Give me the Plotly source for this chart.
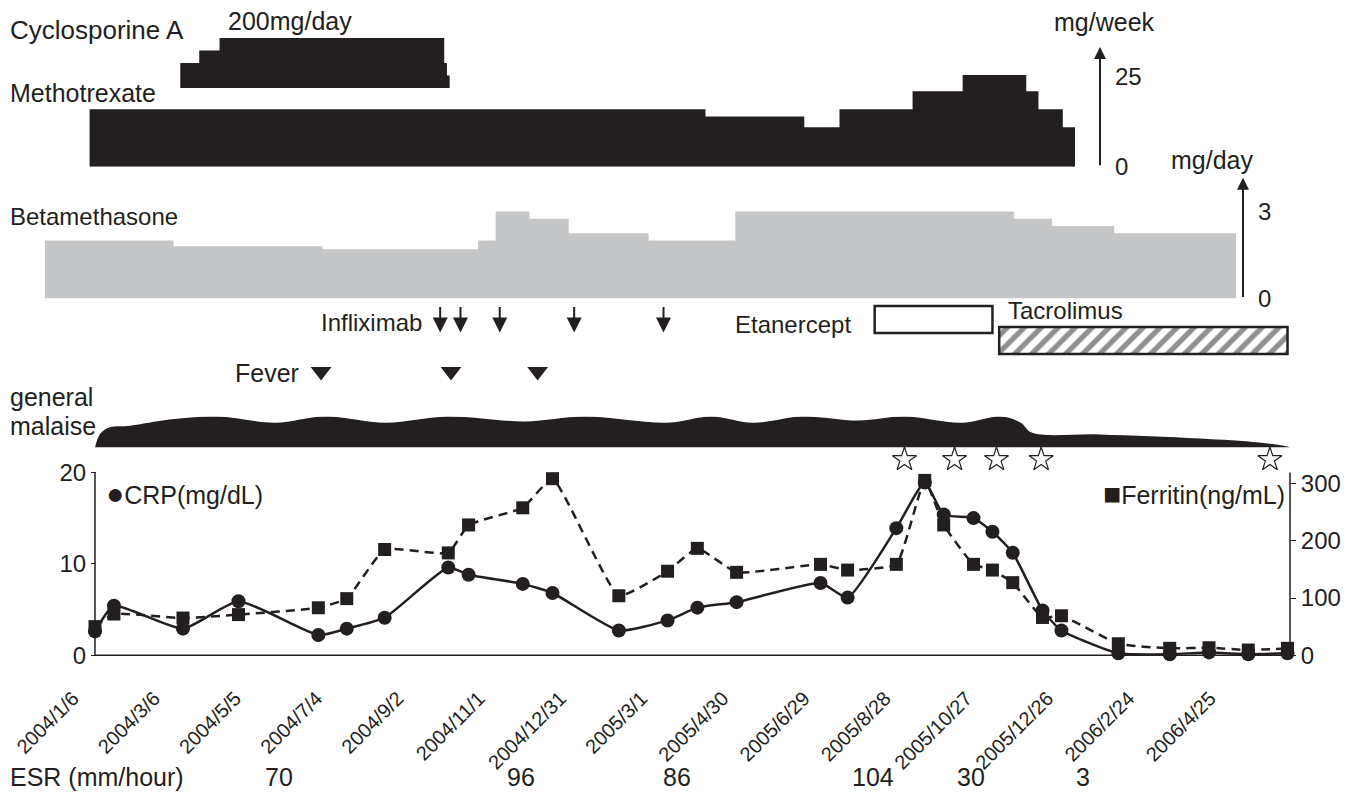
import plotly.graph_objects as go
import pandas as pd

W, H = 1346, 794
FONT = "Liberation Sans, Arial, sans-serif"
INK = "#231f20"
GREY = "#c5c6c8"

# ---------------- data ----------------
lab_dates = ["2004-01-06", "2004-01-20", "2004-03-11", "2004-04-21", "2004-06-19",
             "2004-07-10", "2004-08-07", "2004-09-23", "2004-10-08", "2004-11-17",
             "2004-12-09", "2005-01-27", "2005-03-04", "2005-03-26", "2005-04-24",
             "2005-06-25", "2005-07-15", "2005-08-20", "2005-09-10", "2005-09-24",
             "2005-10-16", "2005-10-30", "2005-11-14", "2005-12-06", "2005-12-20",
             "2006-01-31", "2006-03-10", "2006-04-08", "2006-05-07", "2006-06-05"]
crp = [2.6, 5.4, 2.9, 5.9, 2.2, 2.9, 4.1, 9.6, 8.8, 7.8,
       6.8, 2.7, 3.8, 5.2, 5.8, 7.9, 6.3, 13.9, 18.9, 15.4,
       15.0, 13.5, 11.2, 4.9, 2.7, 0.2, 0.1, 0.3, 0.1, 0.2]
ferritin = [50, 72, 65, 71, 83, 99, 185, 179, 228, 258,
            309, 104, 147, 187, 145, 159, 149, 159, 306, 228,
            159, 149, 127, 66, 69, 20, 12, 13, 9, 12]

tick_dates = ["2004-01-06", "2004-03-06", "2004-05-05", "2004-07-04", "2004-09-02",
              "2004-11-01", "2004-12-31", "2005-03-01", "2005-04-30", "2005-06-29",
              "2005-08-28", "2005-10-27", "2005-12-26", "2006-02-24", "2006-04-25"]
tick_labels = ["2004/1/6", "2004/3/6", "2004/5/5", "2004/7/4", "2004/9/2",
               "2004/11/1", "2004/12/31", "2005/3/1", "2005/4/30", "2005/6/29",
               "2005/8/28", "2005/10/27", "2005/12/26", "2006/2/24", "2006/4/25"]

csa_dates = ["2004-03-09", "2004-03-23", "2004-04-07", "2004-09-20", "2004-09-22", "2004-09-24"]
csa_dose = [100, 150, 200, 100, 50, 0]          # mg/day

mtx_dates = ["2004-01-02", "2005-04-01", "2005-06-13", "2005-07-09", "2005-09-01",
             "2005-10-08", "2005-11-24", "2005-12-03", "2005-12-21", "2005-12-30"]
mtx_dose = [16, 14, 11, 16, 21, 25.5, 21, 16, 11, 0]    # mg/week

beta_dates = ["2003-11-30", "2004-03-04", "2004-06-22", "2004-10-15", "2004-10-28",
              "2004-11-22", "2004-12-21", "2005-02-18", "2005-04-23", "2005-11-15",
              "2005-12-13", "2006-01-28", "2006-04-28"]
beta_dose = [2.0, 1.8, 1.7, 2.0, 3.0, 2.75, 2.25, 2.0, 3.0, 2.75, 2.5, 2.25, 0]  # mg/day

infliximab_dates = ["2004-09-17", "2004-10-02", "2004-10-31", "2004-12-25", "2005-03-01"]
fever_dates = ["2004-06-21", "2004-09-25", "2004-11-28"]
etanercept_period = ["2005-08-04", "2005-10-30"]
tacrolimus_period = ["2005-11-04", "2006-06-05"]
star_dates = ["2005-08-26", "2005-10-02", "2005-11-02", "2005-12-05", "2006-05-23"]

malaise_dates = ["2004-01-06", "2004-01-10", "2004-01-17", "2004-02-01", "2004-03-01",
                 "2004-04-05", "2004-05-18", "2004-06-24", "2004-08-08", "2004-09-22",
                 "2004-11-18", "2005-01-02", "2005-03-04", "2005-04-05", "2005-05-06",
                 "2005-06-12", "2005-07-23", "2005-08-26", "2005-10-07", "2005-11-05",
                 "2005-11-20", "2005-11-28", "2006-01-17", "2006-04-01", "2006-05-15",
                 "2006-06-05", "2006-06-07"]
malaise_level = [0, 4.5, 6.5, 7, 9, 10, 8, 10, 8, 10,
                 8.4, 10, 8, 10, 8, 10, 8.7, 10, 8, 10,
                 8, 4.8, 4.2, 2.9, 1.6, 0.3, 0]

esr_dates = ["2004-05-21", "2004-11-16", "2005-03-11", "2005-08-03", "2005-10-14", "2006-01-05"]
esr_values = [70, 96, 86, 104, 30, 3]

# ---------------- layout geometry (pixels) ----------------
Y_SPAN = 782.0   # vertical pixel span of the reference measurements

def fx(p):
    return p / W

def fy(p):
    return 1 - p / Y_SPAN

ANCHOR = pd.Timestamp("2004-01-06")
X0_PX = 95.0
PPD = 1.3536  # pixels per day
def px_date(p):
    return (ANCHOR + pd.Timedelta(days=(p - X0_PX) / PPD)).strftime("%Y-%m-%d %H:%M:%S")

AX_START = "2004-01-06"
AX_END = px_date(1290)

CRP_ZERO, CRP_PX = 656.0, 9.15
crp_lo, crp_hi = -1.5, 21.9
crp_dom = [fy(CRP_ZERO - crp_lo * CRP_PX), fy(CRP_ZERO - crp_hi * CRP_PX)]
FER_RATIO = 16.0
STAR_LEVEL = 21.4

MTX_ZERO, MTX_25 = 167.0, 77.0
mtx_top_px = 47.0
mtx_hi = 25 * (MTX_ZERO - mtx_top_px) / (MTX_ZERO - MTX_25)

BETA_ZERO, BETA_3 = 299.0, 211.7
beta_top_px = 178.0
beta_hi = 3 * (BETA_ZERO - beta_top_px) / (BETA_ZERO - BETA_3)

ROW_INFLIX = 333
ROW_ETAN = 320
ROW_TACRO = 341
ROW_FEVER = 372

fig = go.Figure()

fig.add_trace(go.Scatter(x=csa_dates, y=csa_dose, yaxis="y3", mode="lines",
                         line=dict(shape="hv", width=0, color=INK),
                         fill="tozeroy", fillcolor=INK, showlegend=False))
fig.add_trace(go.Scatter(x=mtx_dates, y=mtx_dose, yaxis="y4", mode="lines",
                         line=dict(shape="hv", width=0, color=INK),
                         fill="tozeroy", fillcolor=INK, showlegend=False))
fig.add_trace(go.Scatter(x=beta_dates, y=beta_dose, yaxis="y5", mode="lines",
                         line=dict(shape="hv", width=0, color=GREY),
                         fill="tozeroy", fillcolor=GREY, showlegend=False))

def dur_ms(period):
    return (pd.Timestamp(period[1]) - pd.Timestamp(period[0])).total_seconds() * 1000

fig.add_trace(go.Bar(orientation="h", y=[ROW_ETAN], x=[dur_ms(etanercept_period)],
                     base=[etanercept_period[0]], width=[27], yaxis="y6",
                     marker=dict(color="white", line=dict(color=INK, width=2.5)),
                     showlegend=False))
fig.add_trace(go.Bar(orientation="h", y=[ROW_TACRO], x=[dur_ms(tacrolimus_period)],
                     base=[tacrolimus_period[0]], width=[27], yaxis="y6",
                     marker=dict(color="white", line=dict(color=INK, width=2.5),
                                 pattern=dict(shape="/", fgcolor=INK, bgcolor="white",
                                              size=12, solidity=0.45)),
                     showlegend=False))

fig.add_trace(go.Scatter(x=fever_dates, y=[ROW_FEVER] * len(fever_dates), yaxis="y6",
                         mode="markers", marker=dict(symbol="triangle-down", size=18, color=INK),
                         showlegend=False, cliponaxis=False))

fig.add_trace(go.Scatter(x=malaise_dates, y=malaise_level, yaxis="y7", mode="lines",
                         line=dict(shape="spline", smoothing=1.0, width=0, color=INK),
                         fill="tozeroy", fillcolor=INK, showlegend=False))

fig.add_trace(go.Scatter(x=star_dates, y=[STAR_LEVEL] * len(star_dates), yaxis="y",
                         mode="markers",
                         marker=dict(symbol="star-open", size=18, color=INK, line=dict(width=1.2, color=INK)),
                         showlegend=False, cliponaxis=False))

fig.add_trace(go.Scatter(x=lab_dates, y=ferritin, yaxis="y2", mode="lines+markers",
                         line=dict(color=INK, width=2.5, dash="9px,6px", shape="spline", smoothing=0.4),
                         marker=dict(symbol="square", size=13, color=INK),
                         showlegend=False, cliponaxis=False))
fig.add_trace(go.Scatter(x=lab_dates, y=crp, yaxis="y", mode="lines+markers",
                         line=dict(color=INK, width=2.5, shape="spline", smoothing=0.5),
                         marker=dict(symbol="circle", size=14, color=INK),
                         showlegend=False, cliponaxis=False))

x_start = px_date(0)
x_end = px_date(W)

tickfont = dict(family=FONT, size=24, color=INK)
hidden = dict(visible=False, showgrid=False, zeroline=False)
CLEAR = "rgba(0,0,0,0)"

fig.update_layout(
    width=W, height=H,
    margin=dict(l=0, r=0, t=0, b=0, pad=0),
    paper_bgcolor="white", plot_bgcolor=CLEAR,
    barmode="overlay",
    font=dict(family=FONT, color=INK),
    xaxis=dict(type="date", domain=[0, 1], range=[x_start, x_end], anchor="y",
               tickmode="array", tickvals=tick_dates, ticktext=tick_labels,
               tickangle=-45, tickfont=dict(family=FONT, size=20, color=INK),
               ticklabelshift=-22, ticklabelstandoff=13,
               ticks="", showgrid=False, zeroline=False, showline=False),
    yaxis=dict(domain=crp_dom, range=[crp_lo, crp_hi], anchor="free", position=fx(96),
               tickmode="array", tickvals=[0, 10, 20], ticks="outside", ticklen=5,
               tickcolor=INK, tickfont=tickfont, showgrid=False, zeroline=False, showline=False),
    yaxis2=dict(overlaying="y", range=[crp_lo * FER_RATIO, crp_hi * FER_RATIO], side="right",
                anchor="free", position=fx(1290), tickmode="array", tickvals=[0, 100, 200, 300],
                ticks="outside", ticklen=5, tickcolor=INK, tickfont=tickfont,
                showgrid=False, zeroline=False, showline=False),
    yaxis3=dict(domain=[fy(88), fy(38)], range=[0, 200], anchor="x", **hidden),
    yaxis4=dict(domain=[fy(MTX_ZERO), fy(mtx_top_px)], range=[0, mtx_hi], anchor="free",
                position=fx(1100), side="right", tickmode="array", tickvals=[0, 25],
                ticks="", ticklabelstandoff=14, tickfont=tickfont,
                showgrid=False, zeroline=False, showline=False),
    yaxis5=dict(domain=[fy(BETA_ZERO), fy(beta_top_px)], range=[0, beta_hi], anchor="free",
                position=fx(1243), side="right", tickmode="array", tickvals=[0, 3],
                ticks="", ticklabelstandoff=14, tickfont=tickfont,
                showgrid=False, zeroline=False, showline=False),
    yaxis6=dict(domain=[fy(400), fy(300)], range=[400, 300], anchor="x", **hidden),
    yaxis7=dict(domain=[fy(448), fy(417)], range=[0, 10], anchor="x", **hidden),
)

line_style = dict(color=INK, width=1.5)
fig.add_shape(type="line", xref="x", yref="y", x0=AX_START, x1=AX_END, y0=0, y1=0, line=line_style)
fig.add_shape(type="line", xref="x", yref="y", x0=AX_START, x1=AX_START, y0=0, y1=20, line=line_style)
fig.add_shape(type="line", xref="x", yref="y", x0=AX_END, x1=AX_END, y0=0, y1=20, line=line_style)

annotations = []
annotations.append(dict(x=fx(1100), xref="paper", y=mtx_hi, yref="y4", ax=0, axref="pixel",
                        ay=0, ayref="y4", showarrow=True, arrowhead=2, arrowsize=1.2,
                        arrowwidth=2, arrowcolor=INK, text=""))
annotations.append(dict(x=fx(1243), xref="paper", y=beta_hi, yref="y5", ax=0, axref="pixel",
                        ay=0, ayref="y5", showarrow=True, arrowhead=2, arrowsize=1.2,
                        arrowwidth=2, arrowcolor=INK, text=""))
for d in infliximab_dates:
    annotations.append(dict(x=d, xref="x", y=ROW_INFLIX, yref="y6", ax=0, ay=-27,
                            showarrow=True, arrowhead=2, arrowsize=1.5, arrowwidth=2,
                            arrowcolor=INK, text=""))
for d, v in zip(esr_dates, esr_values):
    annotations.append(dict(x=d, xref="x", y=fy(778), yref="paper", text=str(v),
                            showarrow=False, xanchor="center", yanchor="middle",
                            font=dict(family=FONT, size=25, color=INK)))

def label(text, x, y, anchor="left", size=25):
    annotations.append(dict(x=fx(x), y=fy(y), xref="paper", yref="paper", text=text,
                            showarrow=False, xanchor=anchor, yanchor="middle",
                            font=dict(family=FONT, size=size, color=INK)))

label("Cyclosporine A", 8, 30, size=26)
label("200mg/day", 226, 21)
label("Methotrexate", 8, 93)
label("mg/week", 1104, 22, anchor="center")
label("mg/day", 1212, 160, anchor="center")
label("Betamethasone", 8, 217, size=24)
label("Infliximab", 424, 323, anchor="right", size=24)
label("Etanercept", 853, 325, anchor="right", size=24)
label("Tacrolimus", 1006, 311, size=24)
label("Fever", 301, 373, anchor="right")
label("general", 8, 398)
label("malaise", 8, 427)
label("<span style='font-size:30px'>●</span>CRP(mg/dL)", 104, 494)
label("<span style='font-size:30px'>■</span>Ferritin(ng/mL)", 1287, 494, anchor="right")
label("ESR (mm/hour)", 8, 778)

fig.update_layout(annotations=annotations)

fig.write_html("out.html", config={"displayModeBar": False},
               post_script="document.body.style.margin='0px';")
